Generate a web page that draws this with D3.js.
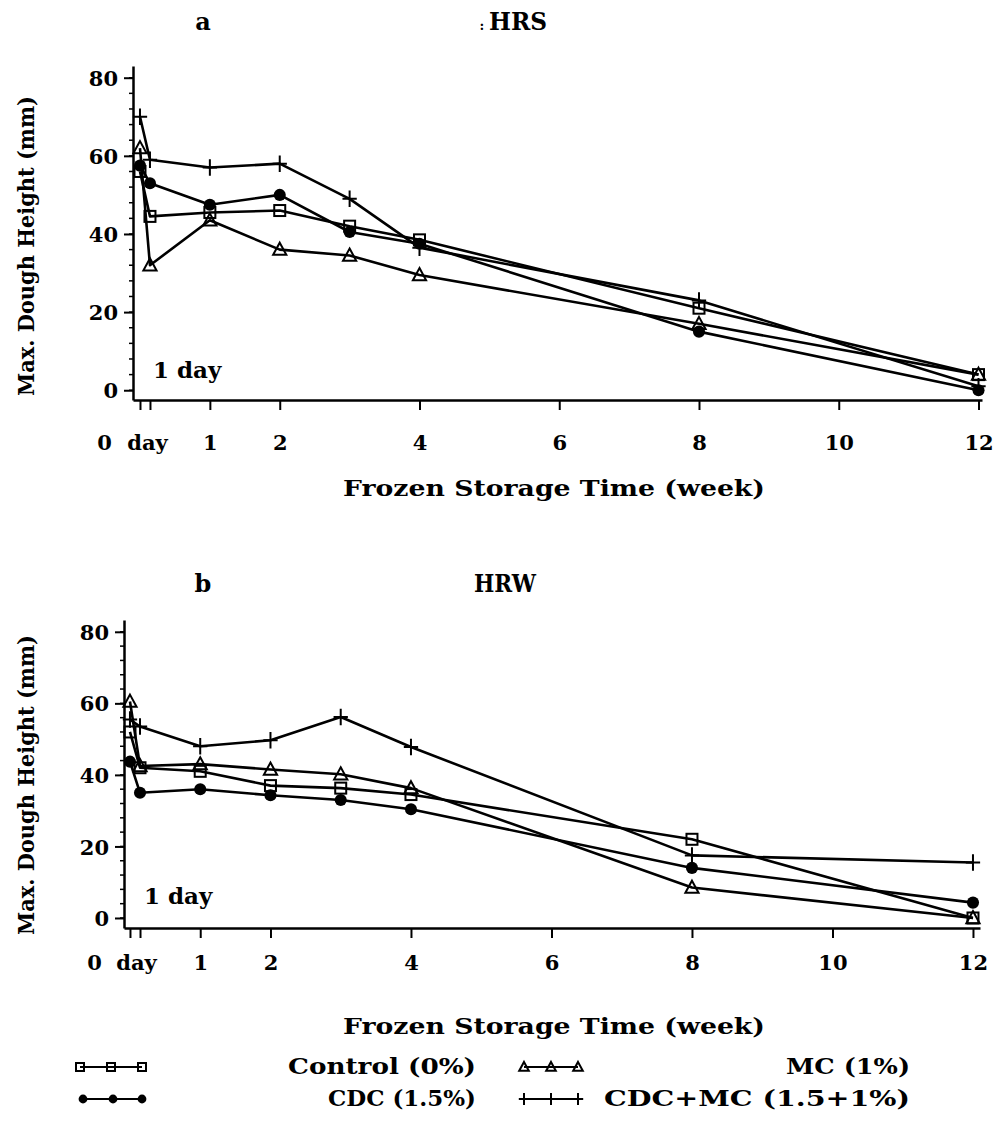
<!DOCTYPE html>
<html>
<head>
<meta charset="utf-8">
<script src="https://cdn.jsdelivr.net/npm/d3@7"></script>
<style>
  html, body { margin: 0; padding: 0; background: #fff; }
  svg { display: block; }
  text { font-family: "DejaVu Serif", "Liberation Serif", serif; font-weight: bold; fill: #000; }
</style>
</head>
<body>
<svg id="chart" width="996" height="1134"></svg>
<script>
// ---------- data ----------
const weeks = [0, 1/7, 1, 2, 3, 4, 8, 12];
const seriesNames = ["Control (0%)", "CDC (1.5%)", "MC (1%)", "CDC+MC (1.5+1%)"];
const seriesKeys = ["square", "circle", "triangle", "plus"];

// HRS (panel a)
const hrsControl = [56, 44.5, 45.5, 46, 42, 38.5, 21, 4];
const hrsCDC     = [57.5, 53, 47.5, 50, 40.5, 37.5, 15, 0];
const hrsMC      = [62, 32, 43.5, 36, 34.5, 29.5, 17, 4];
const hrsCDCMC   = [70, 59, 57, 58, 49, 36.5, 23, 1];

// HRW (panel b)
const hrwControl = [52, 42, 41, 37, 36.3, 34.5, 22, 0];
const hrwCDC     = [43.7, 35, 36, 34.3, 33, 30.4, 14, 4.3];
const hrwMC      = [60.5, 42.5, 43, 41.5, 40.2, 36.3, 8.5, 0];
const hrwCDCMC   = [55.5, 53.5, 48, 49.7, 56.2, 47.8, 17.5, 15.5];

const xTickValues = [0, 1/7, 1, 2, 4, 6, 8, 10, 12];
const xTickLabels = ["0", "day", "1", "2", "4", "6", "8", "10", "12"];
const yTickValues = [0, 20, 40, 60, 80];
const yMinorValues = d3.range(0, 81, 4);

const svg = d3.select("#chart");

function marker(g, kind, size) {
  const s = size;
  if (kind === "square") {
    g.append("rect").attr("x", -s/2).attr("y", -s/2).attr("width", s).attr("height", s)
      .attr("fill", "none").attr("stroke", "#000").attr("stroke-width", 2);
  } else if (kind === "circle") {
    g.append("circle").attr("r", s*0.55).attr("fill", "#000");
  } else if (kind === "triangle") {
    const h = s*1.05;
    g.append("path").attr("d", `M0,${-h*0.6}L${s*0.6},${h*0.45}L${-s*0.6},${h*0.45}Z`)
      .attr("fill", "none").attr("stroke", "#000").attr("stroke-width", 2);
  } else {
    g.append("path").attr("d", `M${-s*0.65},0H${s*0.65}M0,${-s*0.75}V${s*0.75}`)
      .attr("fill", "none").attr("stroke", "#000").attr("stroke-width", 2);
  }
}

function drawPanel(cfg, series) {
  const x = d3.scaleLinear().domain(cfg.xDomain).range(cfg.xRange);
  const y = d3.scaleLinear().domain(cfg.yDomain).range(cfg.yRange);
  const g = svg.append("g");

  // x axis
  const xa = g.append("g").attr("transform", `translate(0,${cfg.yRange[0]})`)
    .call(d3.axisBottom(x).tickValues(xTickValues).tickSize(10).tickSizeOuter(0)
      .tickFormat((d, i) => xTickLabels[i]));
  xa.select(".domain").attr("stroke-width", 2.5);
  xa.selectAll(".tick line").attr("stroke-width", 2);
  xa.selectAll(".tick text").attr("y", cfg.xLabelOff).attr("dy", 0)
    .attr("font-size", 21).attr("font-family", "DejaVu Serif").attr("font-weight", "bold")
    .attr("dx", (d, i) => i === 0 ? cfg.zeroShift : (i === 1 ? cfg.dayShift : 0));

  // y axis
  const ya = g.append("g").attr("transform", `translate(${cfg.xRange[0]},0)`)
    .call(d3.axisLeft(y).tickValues(yTickValues).tickSize(9).tickSizeOuter(0).tickPadding(6));
  ya.select(".domain").attr("stroke-width", 2.5);
  ya.selectAll(".tick line").attr("stroke-width", 2);
  ya.selectAll(".tick text").attr("font-size", 21).attr("font-family", "DejaVu Serif")
    .attr("font-weight", "bold").attr("dy", "0.36em");
  g.append("g").selectAll("line").data(yMinorValues).join("line")
    .attr("x1", cfg.xRange[0] - 4).attr("x2", cfg.xRange[0])
    .attr("y1", d => y(d)).attr("y2", d => y(d))
    .attr("stroke", "#000").attr("stroke-width", 1.5);

  // lines
  const line = d3.line().x((d, i) => x(weeks[i])).y(d => y(d));
  series.forEach((vals) => {
    g.append("path").attr("d", line(vals)).attr("fill", "none")
      .attr("stroke", "#000").attr("stroke-width", 2.6).attr("stroke-linejoin", "round");
  });
  series.forEach((vals, si) => {
    vals.forEach((v, i) => {
      const m = g.append("g").attr("transform", `translate(${x(weeks[i])},${y(v)})`);
      marker(m, seriesKeys[si], 11);
    });
  });

  // "1 day" annotation
  g.append("text").attr("x", cfg.xRange[0] + 20).attr("y", cfg.dayY)
    .attr("font-size", 23).text("1 day");

  // panel letter and title
  g.append("text").attr("x", 203).attr("y", cfg.titleY).attr("font-size", 24)
    .attr("text-anchor", "middle").text(cfg.letter);
  if (cfg.colon) {
    g.append("text").attr("x", 482).attr("y", cfg.titleY).attr("font-size", 13)
      .attr("text-anchor", "middle").text(":");
  }
  g.append("text").attr("x", cfg.titleX).attr("y", cfg.titleY).attr("font-size", 24)
    .attr("text-anchor", "middle").attr("textLength", cfg.titleW)
    .attr("lengthAdjust", "spacingAndGlyphs").text(cfg.name);

  // axis titles
  g.append("text").attr("x", 554).attr("y", cfg.xTitleY).attr("font-size", 22)
    .attr("text-anchor", "middle").attr("textLength", 422)
    .attr("lengthAdjust", "spacingAndGlyphs").text("Frozen Storage Time (week)");
  g.append("text").attr("transform", `translate(34,${cfg.yTitleC}) rotate(-90)`)
    .attr("font-size", 23).attr("text-anchor", "middle").attr("textLength", 300)
    .attr("lengthAdjust", "spacingAndGlyphs").text("Max. Dough Height (mm)");
}

drawPanel({
  xDomain: [-0.1, 12.05], xRange: [133, 982],
  yDomain: [-2.5, 83], yRange: [400, 66],
  zeroShift: -36, dayShift: -3, dayY: 378, xLabelOff: 50,
  letter: "a", name: "HRS", colon: true, titleX: 518, titleW: 58, titleY: 30,
  xTitleY: 496, yTitleC: 246
}, [hrsControl, hrsCDC, hrsMC, hrsCDCMC]);

drawPanel({
  xDomain: [-0.085, 12.1], xRange: [124, 980],
  yDomain: [-2.8, 83.3], yRange: [928, 620],
  zeroShift: -36, dayShift: -4, dayY: 904, xLabelOff: 42,
  letter: "b", name: "HRW", colon: false, titleX: 505, titleW: 62, titleY: 592,
  xTitleY: 1034, yTitleC: 785
}, [hrwControl, hrwCDC, hrwMC, hrwCDCMC]);

// ---------- legend ----------
const legendRows = [
  {key: "square", label: seriesNames[0], sx: [80, 111, 142], y: 1074, tx: 476, w: 188},
  {key: "triangle", label: seriesNames[2], sx: [524, 551, 578], y: 1074, tx: 910, w: 124},
  {key: "circle", label: seriesNames[1], sx: [83, 113, 142], y: 1106, tx: 476, w: 148},
  {key: "plus", label: seriesNames[3], sx: [524, 551, 578], y: 1106, tx: 910, w: 306}
];
const lg = svg.append("g");
legendRows.forEach(r => {
  lg.append("line").attr("x1", r.sx[0]).attr("x2", r.sx[2]).attr("y1", r.y - 7).attr("y2", r.y - 7)
    .attr("stroke", "#000").attr("stroke-width", 2);
  r.sx.forEach(sx => {
    const m = lg.append("g").attr("transform", `translate(${sx},${r.y - 7})`);
    marker(m, r.key, 8);
  });
  lg.append("text").attr("x", r.tx).attr("y", r.y).attr("font-size", 22)
    .attr("text-anchor", "end").attr("textLength", r.w)
    .attr("lengthAdjust", "spacingAndGlyphs").text(r.label);
});
</script>
</body>
</html>
